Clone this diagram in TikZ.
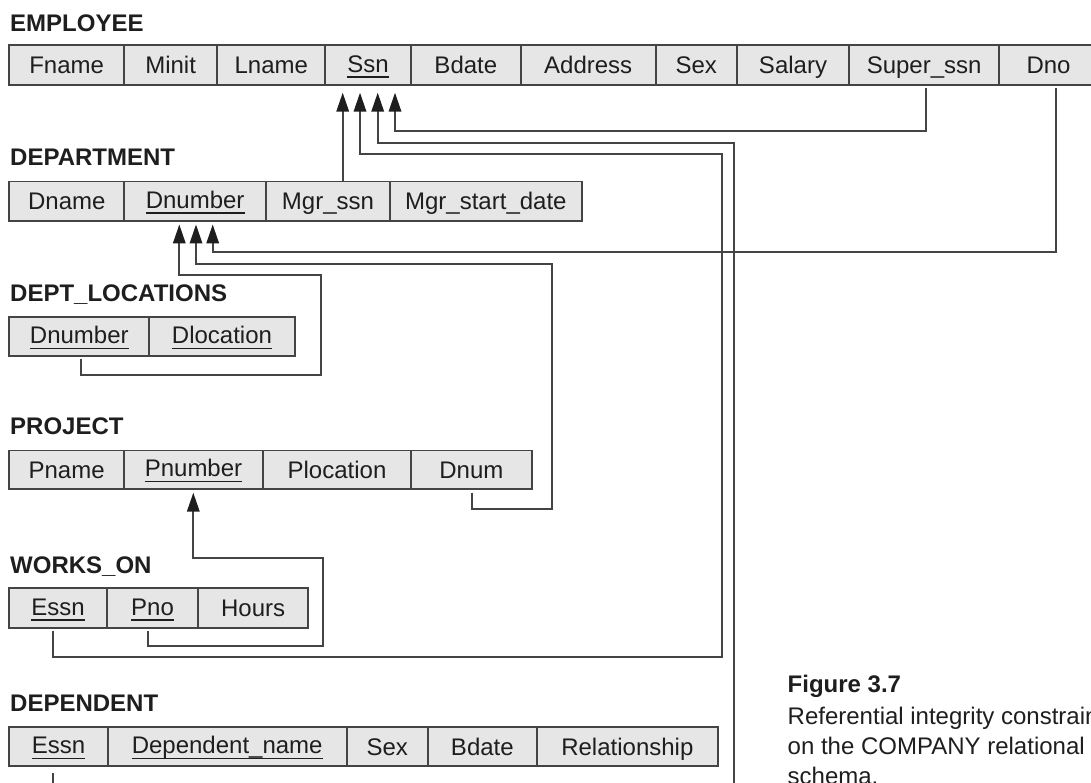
\documentclass[tikz,border=0pt]{standalone}
\usepackage{fontspec}
\setmainfont{Liberation Sans}
\usetikzlibrary{arrows.meta,calc}
\definecolor{linec}{HTML}{444444}
\definecolor{cellfill}{HTML}{E6E6E6}
\definecolor{txt}{HTML}{1E1E1E}
\newcommand{\pk}[1]{\raisebox{1.5pt}{\setbox0=\hbox{#1}\rlap{\rule[-5.5pt]{\wd0}{1.5pt}}#1}}
\begin{document}
\begin{tikzpicture}[x=1pt,y=-1pt,
  cell/.style={draw=linec, line width=1.8pt, fill=cellfill, inner sep=0pt, outer sep=0pt,
    text height=17.2pt, text depth=0pt, anchor=north west,
    font=\fontsize{24}{28}\selectfont, text=txt},
  rel/.style={anchor=base west, inner sep=0pt, font=\bfseries\fontsize{24}{28}\selectfont, text=txt},
  captxt/.style={anchor=base west, inner sep=0pt, font=\fontsize{24}{28}\selectfont, text=txt},
  fk/.style={draw=linec, line width=1.8pt, -{Triangle[length=19pt,width=12.5pt,color=txt]}},
]
\useasboundingbox (0,0) rectangle (1091,783);
\clip (0,0) rectangle (1091,783);

% ---------- EMPLOYEE ----------
\node[rel] (lab-emp) at (10,31.7) {EMPLOYEE};
\node[cell, minimum width=114.7pt, minimum height=40pt] (e-fname) at (9.3,45) {Fname};
\node[cell, minimum width=93.3pt, minimum height=40pt] (e-minit) at (e-fname.north east) {Minit};
\node[cell, minimum width=108pt, minimum height=40pt] (e-lname) at (e-minit.north east) {Lname};
\node[cell, minimum width=85.7pt, minimum height=40pt] (e-ssn) at (e-lname.north east) {\pk{Ssn}};
\node[cell, minimum width=109.7pt, minimum height=40pt] (e-bdate) at (e-ssn.north east) {Bdate};
\node[cell, minimum width=135pt, minimum height=40pt] (e-address) at (e-bdate.north east) {Address};
\node[cell, minimum width=81pt, minimum height=40pt] (e-sex) at (e-address.north east) {Sex};
\node[cell, minimum width=112.6pt, minimum height=40pt] (e-salary) at (e-sex.north east) {Salary};
\node[cell, minimum width=149.7pt, minimum height=40pt] (e-super) at (e-salary.north east) {Super\_ssn};
\node[cell, minimum width=99pt, minimum height=40pt] (e-dno) at (e-super.north east) {Dno};

% ---------- DEPARTMENT ----------
\node[rel] (lab-dept) at (10,165.7) {DEPARTMENT};
\node[cell, minimum width=115pt, minimum height=39.5pt] (d-dname) at (9.3,181.5) {Dname};
\node[cell, minimum width=141.7pt, minimum height=39.5pt] (d-dnumber) at (d-dname.north east) {\pk{Dnumber}};
\node[cell, minimum width=124pt, minimum height=39.5pt] (d-mgr) at (d-dnumber.north east) {Mgr\_ssn};
\node[cell, minimum width=191.7pt, minimum height=39.5pt] (d-start) at (d-mgr.north east) {Mgr\_start\_date};

% ---------- DEPT_LOCATIONS ----------
\node[rel] (lab-loc) at (10,301.7) {DEPT\_LOCATIONS};
\node[cell, minimum width=140pt, minimum height=38.7pt] (l-dnumber) at (9.3,317.3) {\pk{Dnumber}};
\node[cell, minimum width=145.4pt, minimum height=38.7pt] (l-dloc) at (l-dnumber.north east) {\pk{Dlocation}};

% ---------- PROJECT ----------
\node[rel] (lab-proj) at (10,434.3) {PROJECT};
\node[cell, minimum width=114.7pt, minimum height=38.5pt] (p-pname) at (9.3,450.5) {Pname};
\node[cell, minimum width=139pt, minimum height=38.5pt] (p-pnumber) at (p-pname.north east) {\pk{Pnumber}};
\node[cell, minimum width=148pt, minimum height=38.5pt] (p-ploc) at (p-pnumber.north east) {Plocation};
\node[cell, minimum width=120.7pt, minimum height=38.5pt] (p-dnum) at (p-ploc.north east) {Dnum};

% ---------- WORKS_ON ----------
\node[rel] (lab-works) at (10,573.3) {WORKS\_ON};
\node[cell, minimum width=97.4pt, minimum height=39.4pt] (w-essn) at (9.3,588.3) {\pk{Essn}};
\node[cell, minimum width=91.6pt, minimum height=39.4pt] (w-pno) at (w-essn.north east) {\pk{Pno}};
\node[cell, minimum width=109.7pt, minimum height=39.4pt] (w-hours) at (w-pno.north east) {Hours};

% ---------- DEPENDENT ----------
\node[rel] (lab-dep) at (10,711.7) {DEPENDENT};
\node[cell, minimum width=98.4pt, minimum height=38.4pt] (dp-essn) at (9.3,727.3) {\pk{Essn}};
\node[cell, minimum width=239pt, minimum height=38.4pt] (dp-name) at (dp-essn.north east) {\pk{Dependent\_name}};
\node[cell, minimum width=81pt, minimum height=38.4pt] (dp-sex) at (dp-name.north east) {Sex};
\node[cell, minimum width=109.3pt, minimum height=38.4pt] (dp-bdate) at (dp-sex.north east) {Bdate};
\node[cell, minimum width=180.7pt, minimum height=38.4pt] (dp-rel) at (dp-bdate.north east) {Relationship};

% ---------- caption ----------
\node[anchor=base west, inner sep=0pt, font=\bfseries\fontsize{24}{28}\selectfont, text=txt] (fig) at (787.5,692.7) {Figure 3.7};
\node[captxt] (cap1) at (787.5,724) {Referential integrity constraints};
\node[captxt] (cap2) at (787.5,754.3) {on the COMPANY relational};
\node[captxt] (cap3) at (787.5,784.6) {schema.};

% ---------- arrow tips ----------
\coordinate (ts1) at ($(e-ssn.south)+(-25.45,7.7)$);
\coordinate (ts2) at ($(e-ssn.south)+(-8.15,7.7)$);
\coordinate (ts3) at ($(e-ssn.south)+(9.55,7.7)$);
\coordinate (ts4) at ($(e-ssn.south)+(26.85,7.7)$);
\coordinate (td1) at ($(d-dnumber.south)+(-15.85,3.5)$);
\coordinate (td2) at ($(d-dnumber.south)+(0.85,3.5)$);
\coordinate (td3) at ($(d-dnumber.south)+(17.55,3.5)$);
\coordinate (tp1) at ($(p-pnumber.south)+(-0.2,3.7)$);

% ---------- source points ----------
\coordinate (sSuper) at ($(e-super.south)+(1.85,3.3)$);
\coordinate (sDno) at ($(e-dno.south)+(7.5,3.3)$);
\coordinate (sLoc) at ($(l-dnumber.south)+(1.7,3)$);
\coordinate (sDnum) at ($(p-dnum.south)+(0.35,3.7)$);
\coordinate (sWEssn) at ($(w-essn.south)+(-5.3,3.3)$);
\coordinate (sWPno) at ($(w-pno.south)+(-4.8,3.3)$);
\coordinate (sDEssn) at ($(dp-essn.south)+(-5.8,7.6)$);

% ---------- connectors ----------
\draw[fk] (d-mgr.north -| ts1) -- (ts1);
\draw[fk] (sWEssn) |- (722,656.7) |- (ts2 |- 0,154) -- (ts2);
\draw[fk] (sDEssn) |- (733.7,800) |- (ts3 |- 0,142.7) -- (ts3);
\draw[fk] (sSuper) |- (ts4 |- 0,131) -- (ts4);
\draw[fk] (sLoc) |- (321,375) |- (td1 |- 0,275) -- (td1);
\draw[fk] (sDnum) |- (552.3,509.3) |- (td2 |- 0,264.3) -- (td2);
\draw[fk] (sDno) |- (td3 |- 0,252.3) -- (td3);
\draw[fk] (sWPno) |- (323.3,645.7) |- (tp1 |- 0,558.3) -- (tp1);
\end{tikzpicture}
\end{document}
